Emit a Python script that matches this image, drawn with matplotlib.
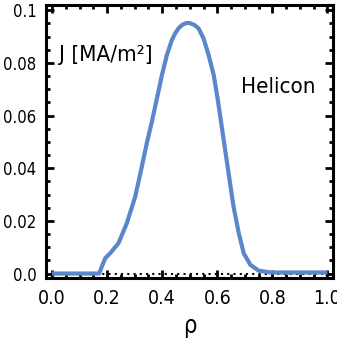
import matplotlib
matplotlib.use("Agg")
import matplotlib.pyplot as plt
from matplotlib.ticker import MultipleLocator

# perfil de corriente
rho = [0.0, 0.171, 0.181, 0.193, 0.211, 0.241, 0.2715, 0.302, 0.326, 0.344, 0.3625,
       0.381, 0.399, 0.417, 0.435, 0.447, 0.459, 0.472, 0.484, 0.493, 0.502, 0.517,
       0.532, 0.550, 0.5685, 0.587, 0.601, 0.6135, 0.625, 0.641, 0.659, 0.678, 0.696,
       0.72, 0.75, 0.793, 1.0]
J = [0.0, 0.0, 0.0027, 0.0058, 0.0077, 0.0115, 0.0191, 0.0292, 0.0406, 0.0495, 0.0577,
     0.0666, 0.0754, 0.0830, 0.0887, 0.0912, 0.0931, 0.0944, 0.0950, 0.0952, 0.0950, 0.0944,
     0.0931, 0.0893, 0.0830, 0.0754, 0.0666, 0.0577, 0.0495, 0.0381, 0.0254, 0.0153, 0.0077,
     0.0033, 0.0011, 0.0004, 0.0004]

x_ticks = [0.0, 0.2, 0.4, 0.6, 0.8, 1.0]
y_ticks = [0.0, 0.02, 0.04, 0.06, 0.08, 0.1]
x_labels = ["0.0", "0.2", "0.4", "0.6", "0.8", "1.0"]
y_labels = ["0.0", "0.02", "0.04", "0.06", "0.08", "0.1"]

plt.rcParams["font.family"] = ["DejaVu Sans"]
plt.rcParams["font.stretch"] = "condensed"
azul = "#5a87c9"

fig = plt.figure(figsize=(3.37, 3.43), dpi=100)
ax = fig.add_axes([0.1365, 0.1895, 0.8515, 0.796])

ax.plot(rho, J, color=azul, lw=3, solid_capstyle="butt", solid_joinstyle="round", zorder=3)
ax.axhline(0, color="black", ls=(0, (1, 2)), lw=1.5, zorder=2)

ax.set_xlim(-0.022, 1.02)
ax.set_ylim(-0.0017, 0.102)
ax.set_xticks(x_ticks)
ax.set_xticklabels(x_labels)
ax.set_yticks(y_ticks)
ax.set_yticklabels(y_labels)
ax.xaxis.set_minor_locator(MultipleLocator(0.05))
ax.yaxis.set_minor_locator(MultipleLocator(0.005))

ax.tick_params(which="both", direction="in", top=True, right=True, width=2, color="black")
ax.tick_params(which="major", length=6)
ax.tick_params(which="minor", length=3)
ax.tick_params(axis="y", labelsize=12, pad=7)
ax.tick_params(axis="x", labelsize=14, pad=8)
for s in ax.spines.values():
    s.set_linewidth(2.2)

ax.set_xlabel("ρ", fontsize=17, labelpad=4)
ax.text(0.045, 0.815, "J [MA/m²]", transform=ax.transAxes, fontsize=16,
        ha="left", va="center")
ax.text(0.94, 0.70, "Helicon", transform=ax.transAxes, fontsize=16,
        ha="right", va="center")

fig.savefig("out.png", dpi=100)
